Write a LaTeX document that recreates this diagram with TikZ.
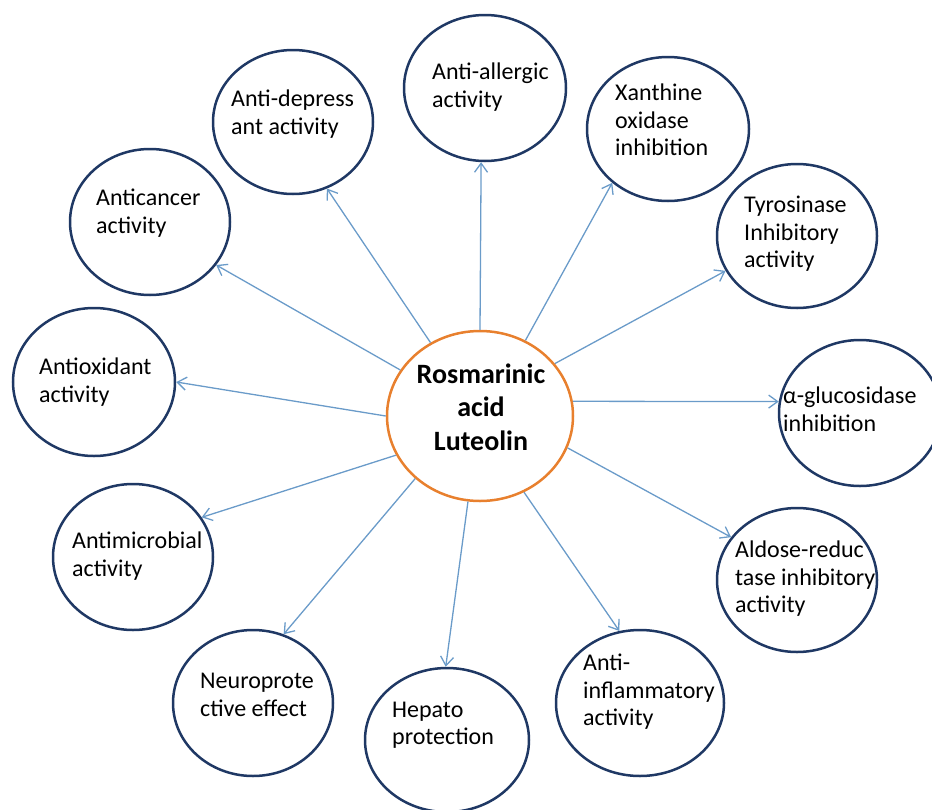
\documentclass[tikz,border=0pt]{standalone}
\usepackage{fontspec}
\setmainfont{Carlito}
\usetikzlibrary{shapes.geometric, arrows.meta}
\definecolor{navy}{HTML}{1F3864}
\definecolor{orng}{HTML}{E8802E}
\definecolor{arrblue}{HTML}{6A9BC9}

\begin{document}
\begin{tikzpicture}[x=1pt, y=-1pt,
        act/.style={draw=navy, line width=2.5pt, ellipse, inner sep=0pt},
        acttext/.style={anchor=west, align=left, inner sep=0pt, font=\fontsize{24}{27.5}\selectfont},
        eff/.style={-{Straight Barb[length=9pt, width=13pt]}, arrblue, line width=1.3pt}]
        \useasboundingbox (0, 0) rectangle (932, 809);

        % centre
        \node[draw=orng, line width=2.5pt, ellipse, inner sep=0pt,
            minimum width=186pt, minimum height=170pt] (ra) at (480, 416) {};
        \node[align=center, inner sep=0pt, font=\bfseries\fontsize{28}{33.5}\selectfont]
            (ra-txt) at (481, 407) {Rosmarinic\\acid\\Luteolin};

        % activities
        \node[act, minimum width=162pt, minimum height=146pt] (allergic) at (485, 88) {};
        \node[acttext] (allergic-txt) at (432, 87) {Anti-allergic\\activity};
        \node[act, minimum width=162pt, minimum height=144pt] (xanthine) at (668, 129) {};
        \node[acttext] (xanthine-txt) at (615, 120) {Xanthine\\oxidase\\inhibition};
        \node[act, minimum width=160pt, minimum height=144pt] (tyrosinase) at (797, 236) {};
        \node[acttext] (tyrosinase-txt) at (744, 234) {Tyrosinase\\Inhibitory\\activity};
        \node[act, minimum width=162pt, minimum height=146pt] (glucosidase) at (860, 413) {};
        \node[acttext] (glucosidase-txt) at (783, 409) {α-glucosidase\\inhibition};
        \node[act, minimum width=160pt, minimum height=144pt] (aldose) at (797, 580) {};
        \node[acttext] (aldose-txt) at (735, 579) {Aldose-reduc\\tase inhibitory\\activity};
        \node[act, minimum width=168pt, minimum height=146pt] (inflam) at (640, 703) {};
        \node[acttext] (inflam-txt) at (583, 692) {Anti-\\inflammatory\\activity};
        \node[act, minimum width=164pt, minimum height=144pt] (hepato) at (447, 740) {};
        \node[acttext] (hepato-txt) at (392, 725) {Hepato\\protection};
        \node[act, minimum width=160pt, minimum height=146pt] (neuro) at (253, 703) {};
        \node[acttext] (neuro-txt) at (200, 695) {Neuroprote\\ctive effect};
        \node[act, minimum width=160pt, minimum height=146pt] (microbial) at (133, 557) {};
        \node[acttext] (microbial-txt) at (72, 556) {Antimicrobial\\activity};
        \node[act, minimum width=162pt, minimum height=148pt] (oxidant) at (94, 382) {};
        \node[acttext] (oxidant-txt) at (39, 382) {Antioxidant\\activity};
        \node[act, minimum width=160pt, minimum height=146pt] (cancer) at (150, 222) {};
        \node[acttext] (cancer-txt) at (96, 213) {Anticancer\\activity};
        \node[act, minimum width=160pt, minimum height=144pt] (depress) at (293, 122) {};
        \node[acttext] (depress-txt) at (231, 114) {Anti-depress\\ant activity};

        % arrows
        \draw[eff] (ra.90) -- (allergic.267);
        \draw[eff] (ra.59) -- (xanthine.224);
        \draw[eff] (ra.35) -- (tyrosinase.206);
        \draw[eff] (ra.9) -- (glucosidase.172);
        \draw[eff] (ra.340) -- (aldose.147);
        \draw[eff] (ra.300) -- (inflam.106);
        \draw[eff] (ra.262) -- (hepato.91);
        \draw[eff] (ra.224) -- (neuro.66);
        \draw[eff] (ra.205) -- (microbial.30);
        \draw[eff] (ra.180) -- (oxidant.0);
        \draw[eff] (ra.150) -- (cancer.327);
        \draw[eff] (ra.124) -- (depress.297);

    \end{tikzpicture}
\end{document}
